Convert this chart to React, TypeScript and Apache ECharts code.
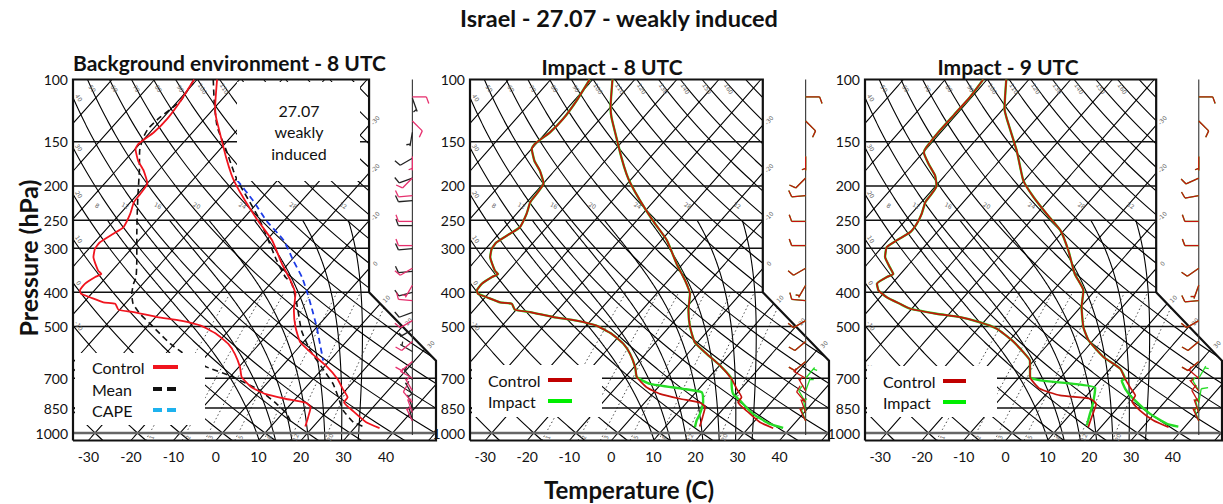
import React, { useEffect, useRef } from "react";
import * as echarts from "echarts";

// ---------- axis ticks and reference-line values ----------
const PRESSURE_TICKS = [100, 150, 200, 250, 300, 400, 500, 700, 850, 1000];
const TEMP_TICKS = [-30, -20, -10, 0, 10, 20, 30, 40];
const ISOTHERMS = [-100, -90, -80, -70, -60, -50, -40, -30, -20, -10, 0, 10, 20, 30, 40, 50];
const ISOTHERM_LABELS = [-30, -20, -10, 0, 10, 20, 30];
const DRY_ADIABATS = [-30, -20, -10, 0, 10, 20, 30, 40, 50, 60, 70, 80, 90, 100, 110, 120, 130, 140, 150, 160, 170];
const DRY_LABELS_LEFT = [-30, -20, -10, 0, 10, 20, 30, 40];
const DRY_LABELS_TOP = [50, 60, 70, 80, 90, 100, 110, 120, 130, 140, 150, 160];
const MOIST_ADIABATS = [8, 12, 16, 20, 24, 28, 32];
const MIXING_RATIOS = [1, 2, 3, 5, 8, 12, 20];

// ---------- soundings (pressure hPa, temperature °C) ----------
// Control, 8 UTC
const CTL8_P = [100, 120, 128, 146, 166, 185, 197, 220, 251, 285, 332, 370, 404, 450, 502, 554, 597, 644, 703, 750, 792, 818, 873, 932, 969];
const CTL8_T = [-75.3, -69.9, -67.6, -62.2, -56.9, -52.2, -49.2, -43.4, -36.1, -28.7, -21.5, -16.0, -12.0, -8.9, -5.0, -0.7, 4.5, 10.1, 15.7, 19.0, 21.9, 22.1, 26.6, 31.5, 35.9];
const CTL8_DP = [100, 115, 129, 141, 152, 157, 170, 181, 197, 211, 222, 240, 262, 273, 289, 301, 318, 347, 355, 362, 378, 395, 404, 413, 427, 431, 448, 455, 470, 481, 497, 524, 559, 597, 651, 695, 742, 775, 800, 821, 845, 902, 959];
const CTL8_TD = [-80.7, -79.4, -78.8, -79.1, -80.3, -80.0, -76.8, -73.5, -69.9, -69.4, -69.2, -67.6, -66.4, -67.4, -68.8, -68.6, -67.2, -63.3, -61.8, -62.6, -63.6, -63.4, -62.4, -59.6, -55.4, -52.3, -50.3, -46.2, -39.6, -33.4, -27.6, -22.3, -17.4, -13.7, -9.7, -7.2, -2.8, 1.8, 7.6, 13.2, 15.3, 16.8, 18.1];

// Impact, 8 UTC
const IMP8_P = [100, 120, 128, 146, 166, 185, 197, 220, 251, 285, 332, 370, 404, 450, 502, 554, 597, 644, 703, 734, 775, 809, 883, 942, 967];
const IMP8_T = [-75.3, -69.9, -67.6, -62.2, -56.9, -52.2, -49.2, -43.4, -36.1, -28.7, -21.5, -16.0, -12.0, -8.9, -5.0, -0.7, 4.5, 10.1, 15.7, 17.1, 19.2, 22.2, 28.1, 34.2, 38.2];
const IMP8_DP = [100, 115, 129, 141, 152, 157, 170, 181, 197, 211, 222, 240, 262, 273, 289, 301, 318, 347, 355, 362, 378, 395, 404, 413, 427, 431, 448, 455, 470, 481, 497, 524, 559, 597, 651, 695, 726, 750, 767, 818, 883, 922, 963];
const IMP8_TD = [-80.7, -79.4, -78.8, -79.1, -80.3, -80.0, -76.8, -73.5, -69.9, -69.4, -69.2, -67.6, -66.4, -67.4, -68.8, -68.6, -67.2, -63.3, -61.8, -62.6, -63.6, -63.4, -62.4, -59.6, -55.4, -52.3, -50.3, -46.2, -39.6, -33.4, -27.6, -22.3, -17.4, -13.7, -9.7, -7.2, -2.7, 6.3, 11.4, 13.8, 15.5, 16.1, 17.1];

// Control, 9 UTC
const CTL9_P = [100, 121, 129, 159, 193, 215, 240, 267, 305, 355, 395, 441, 502, 547, 610, 658, 703, 742, 783, 813, 864, 922, 963];
const CTL9_T = [-75.4, -69.7, -67.1, -58.0, -50.2, -44.3, -37.6, -30.9, -24.7, -18.3, -12.8, -9.7, -5.1, -1.1, 6.0, 12.4, 15.7, 18.6, 21.6, 22.0, 25.9, 31.2, 36.2];
const CTL9_DP = [100, 112, 126, 141, 156, 161, 173, 187, 200, 211, 222, 240, 256, 270, 285, 298, 318, 340, 355, 362, 378, 395, 413, 431, 445, 460, 470, 486, 507, 547, 591, 624, 695, 750, 783, 800, 827, 902, 963];
const CTL9_TD = [-80.9, -80.4, -80.5, -80.6, -80.3, -79.8, -76.4, -72.3, -69.8, -69.3, -69.1, -67.5, -66.6, -66.4, -67.9, -68.9, -67.2, -63.9, -61.7, -62.6, -63.6, -61.8, -58.4, -53.9, -50.4, -43.0, -36.7, -30.9, -25.5, -19.4, -14.2, -10.9, -7.4, -2.6, 3.6, 11.5, 14.0, 15.7, 17.0];

// Impact, 9 UTC
const IMP9_P = [100, 121, 129, 159, 193, 215, 240, 267, 305, 355, 395, 441, 502, 547, 610, 658, 703, 710, 750, 792, 883, 942, 959];
const IMP9_T = [-75.4, -69.7, -67.1, -58.0, -50.2, -44.3, -37.6, -30.9, -24.7, -18.3, -12.8, -9.7, -5.1, -1.1, 6.0, 12.4, 15.7, 15.2, 17.8, 21.1, 29.0, 35.1, 38.4];
const IMP9_DP = [100, 112, 126, 141, 156, 161, 173, 187, 200, 211, 222, 240, 256, 270, 285, 298, 318, 340, 355, 362, 378, 395, 413, 431, 445, 460, 470, 486, 507, 547, 591, 624, 695, 710, 726, 745, 827, 883, 952];
const IMP9_TD = [-80.9, -80.4, -80.5, -80.6, -80.3, -79.8, -76.4, -72.3, -69.8, -69.3, -69.1, -67.5, -66.6, -66.4, -67.9, -68.9, -67.2, -63.9, -61.7, -62.6, -63.6, -61.8, -58.4, -53.9, -50.4, -43.0, -36.7, -30.9, -25.5, -19.4, -14.2, -10.9, -7.4, -4.3, 4.4, 10.4, 13.2, 14.6, 16.3];

// Mean background environment, 8 UTC
const MEAN_P = [100, 117, 136, 159, 181, 193, 215, 245, 279, 325, 362, 378, 431, 513, 584, 651, 726, 792, 864, 932, 963];
const MEAN_T = [-76.2, -70.9, -65.4, -58.2, -52.4, -49.4, -43.7, -36.8, -30.6, -23.4, -17.9, -15.0, -9.6, -2.9, 3.3, 9.5, 15.7, 19.7, 23.7, 28.5, 32.3];
const MEAN_DP = [100, 115, 129, 138, 147, 159, 181, 211, 235, 273, 325, 362, 378, 404, 431, 460, 491, 524, 559, 591, 651, 688, 758, 827, 883, 942];
const MEAN_TD = [-80.7, -79.4, -80.9, -81.2, -80.4, -78.6, -74.5, -69.9, -66.6, -61.9, -56.3, -53.0, -52.2, -50.5, -48.1, -44.4, -39.9, -35.5, -31.0, -26.5, -17.5, -10.3, -0.1, 6.6, 11.1, 14.3];

// Lifted parcel used for CAPE
const CAPE_P = [193, 220, 251, 285, 325, 362, 395, 441, 502, 559, 624];
const CAPE_T = [-49.4, -41.5, -34.1, -26.0, -19.5, -14.0, -10.1, -5.4, 0.0, 4.2, 8.5];

// ---------- winds (direction from, degrees; speed, kt) ----------
const BARB_P = [112, 131, 165, 190, 213, 252, 295, 342, 382, 422, 481, 551, 628, 700, 760, 820, 875, 925];
const CTL8_WDIR = [90, 135, 180, 225, 265, 270, 270, 240, 210, 275, 240, 230, 230, 300, 330, 320, 340, 335];
const CTL8_WSPD = [10, 10, 5, 10, 10, 10, 10, 10, 5, 10, 10, 10, 10, 5, 5, 10, 5, 5];
const IMP8_WDIR = [90, 135, 180, 225, 265, 270, 270, 240, 210, 275, 240, 230, 230, 40, 20, 330, 350, 340];
const IMP8_WSPD = [10, 10, 5, 10, 10, 10, 10, 10, 5, 10, 10, 10, 10, 5, 5, 10, 5, 5];
const CTL9_WDIR = [90, 135, 180, 245, 260, 270, 270, 235, 200, 265, 240, 230, 230, 310, 320, 330, 340, 335];
const CTL9_WSPD = [10, 10, 5, 10, 10, 10, 10, 10, 5, 10, 10, 10, 10, 5, 5, 10, 5, 5];
const IMP9_WDIR = [90, 135, 180, 245, 260, 270, 270, 235, 200, 265, 240, 230, 230, 30, 330, 10, 345, 340];
const IMP9_WSPD = [10, 10, 5, 10, 10, 10, 10, 10, 5, 10, 10, 10, 10, 5, 5, 10, 5, 5];
const MEAN_BARB_P = [113, 141, 167, 190, 220, 259, 301, 349, 400, 456, 510, 588, 706, 780, 850, 920];
const MEAN_WDIR = [160, 190, 240, 250, 265, 270, 265, 265, 255, 250, 240, 300, 320, 330, 340, 345];
const MEAN_WSPD = [5, 5, 10, 10, 10, 10, 10, 10, 10, 10, 5, 5, 5, 5, 5, 5];

// ---------- skew-T geometry (NCL-style diagram coordinates) ----------
const skewY = (p: number) => 132.182 - 44.061 * Math.log10(p);
const skewX = (t: number, y: number) => 0.54 * t + 0.90692 * y;
const toXY = (p: number, t: number) => {
  const y = skewY(p);
  return [skewX(t, y), y];
};
const Y_BOT = skewY(1050);
const Y_TOP = skewY(100);
const X_MIN = -19;
const X_MAX = 27.1;
const X_UPPER = 18.6;
const Y_KNEE_HI = 17.53;
const Y_KNEE_LO = 9.0;
const STAFF_X = 24.1;

const rightEdge = (y: number) => {
  if (y >= Y_KNEE_HI) return X_UPPER;
  if (y <= Y_KNEE_LO) return X_MAX;
  return X_UPPER + ((Y_KNEE_HI - y) * (X_MAX - X_UPPER)) / (Y_KNEE_HI - Y_KNEE_LO);
};
const inside = (q: number[]) => {
  const e = 1e-7;
  return q[1] >= Y_BOT - e && q[1] <= Y_TOP + e && q[0] >= X_MIN - e && q[0] <= rightEdge(q[1]) + e;
};

function clip(points: number[][]) {
  const out: number[][][] = [];
  let cur: number[][] = [];
  for (let i = 0; i < points.length; i++) {
    const p = points[i];
    const pin = inside(p);
    if (i > 0) {
      const q = points[i - 1];
      const qin = inside(q);
      if (pin !== qin) {
        let a = q;
        let b = p;
        for (let k = 0; k < 40; k++) {
          const m = [(a[0] + b[0]) / 2, (a[1] + b[1]) / 2];
          if (inside(m) === qin) a = m;
          else b = m;
        }
        if (qin) {
          cur.push(a);
          out.push(cur);
          cur = [];
        } else {
          cur.push(b);
        }
      }
    }
    if (pin) cur.push(p);
  }
  if (cur.length > 1) out.push(cur);
  return out.filter((s) => s.length > 1);
}

const logSteps = (p0: number, p1: number, n: number) => {
  const out: number[] = [];
  for (let i = 0; i <= n; i++) out.push(p0 * Math.pow(p1 / p0, i / n));
  return out;
};

// pseudo-adiabatic lapse rate
const RD = 287.04, CPD = 1005.7, LV = 2.501e6, EPS = 0.622;
const satVap = (tc: number) => 6.112 * Math.exp((17.67 * tc) / (tc + 243.5));
const moistRate = (p: number, tk: number) => {
  const e = satVap(tk - 273.15);
  const rs = (EPS * e) / (p - e);
  return (RD * tk + LV * rs) / (CPD + (LV * LV * rs * EPS) / (RD * tk * tk)) / p;
};
function moistProfile(tw: number, pTop: number) {
  const down: number[][] = [];
  let tk = tw + 273.15;
  let p = 1000;
  while (p < 1050) {
    const dp = Math.min(2, 1050 - p);
    const k1 = moistRate(p, tk);
    const k2 = moistRate(p + dp, tk + k1 * dp);
    tk += 0.5 * (k1 + k2) * dp;
    p += dp;
    down.push([p, tk - 273.15]);
  }
  down.reverse();
  const pts = [...down, [1000, tw]];
  tk = tw + 273.15;
  p = 1000;
  while (p > pTop) {
    const dp = -Math.min(2, p - pTop);
    const k1 = moistRate(p, tk);
    const k2 = moistRate(p + dp, tk + k1 * dp);
    tk += 0.5 * (k1 + k2) * dp;
    p += dp;
    pts.push([p, tk - 273.15]);
  }
  return pts;
}

type Label = { pos: number[]; text: string; dx: number; dy: number; rot: number };

function buildBackground() {
  const isobars: number[][][] = PRESSURE_TICKS.filter((p) => p !== 100 && p !== 1000).map((p) => {
    const y = skewY(p);
    return [[X_MIN, y], [rightEdge(y), y]];
  });
  const surface = [[[X_MIN, skewY(1000)], [X_MAX, skewY(1000)]]];
  const outline = [[
    [X_MIN, Y_BOT], [X_MAX, Y_BOT], [X_MAX, Y_KNEE_LO], [X_UPPER, Y_KNEE_HI],
    [X_UPPER, Y_TOP], [X_MIN, Y_TOP], [X_MIN, Y_BOT],
  ]];
  const isotherms: number[][][] = [];
  const dry: number[][][] = [];
  const moist: number[][][] = [];
  const mixing: number[][][] = [];
  const labels: Label[] = [];

  ISOTHERMS.forEach((t) => {
    const pts: number[][] = [];
    for (let i = 0; i <= 240; i++) {
      const y = Y_BOT + ((Y_TOP - Y_BOT) * i) / 240;
      pts.push([skewX(t, y), y]);
    }
    const segs = clip(pts);
    segs.forEach((s) => isotherms.push(s));
    if (ISOTHERM_LABELS.includes(t) && segs.length) {
      const s = segs[segs.length - 1];
      labels.push({ pos: s[s.length - 1], text: String(t), dx: 6, dy: -5, rot: 0.8 });
    }
  });

  DRY_ADIABATS.forEach((th) => {
    const pts = logSteps(1050, 100, 240).map((p) => toXY(p, (th + 273.15) * Math.pow(p / 1000, 0.2857) - 273.15));
    const segs = clip(pts);
    segs.forEach((s) => dry.push(s));
    if (segs.length) {
      const s = segs[segs.length - 1];
      const e = s[s.length - 1];
      if (DRY_LABELS_LEFT.includes(th)) labels.push({ pos: e, text: String(th), dx: 6, dy: 0, rot: -1.0 });
      if (DRY_LABELS_TOP.includes(th)) labels.push({ pos: e, text: String(th), dx: 5, dy: 9, rot: -1.0 });
    }
  });

  MOIST_ADIABATS.forEach((tw) => {
    const prof = moistProfile(tw, 227);
    const pts = prof.filter((q) => q[0] >= 250).map((q) => toXY(q[0], q[1]));
    clip(pts).forEach((s) => moist.push(s));
    const top = prof[prof.length - 1];
    labels.push({ pos: toXY(top[0], top[1]), text: String(tw), dx: 0, dy: 0, rot: -0.5 });
  });

  MIXING_RATIOS.forEach((w) => {
    const tdAt = (p: number) => {
      const e = (w * p) / (622 + w);
      const l = Math.log(e / 6.112);
      return (243.5 * l) / (17.67 - l);
    };
    const pts = logSteps(1050, 400, 80).map((p) => toXY(p, tdAt(p)));
    clip(pts).forEach((s) => mixing.push(s));
    labels.push({ pos: toXY(1028, tdAt(1028)), text: String(w), dx: 4, dy: 0, rot: 1.2 });
  });

  return { isobars, surface, outline, isotherms, dry, moist, mixing, labels };
}

// ---------- series builders ----------
function polySeries(gi: number, lines: number[][][], stroke: string, width: number, dash: any, z: number) {
  return {
    type: "custom",
    xAxisIndex: gi,
    yAxisIndex: gi,
    silent: true,
    z,
    data: lines.map((l) => l[0]),
    renderItem: (params: any, api: any) => ({
      type: "polyline",
      shape: { points: lines[params.dataIndex].map((q) => api.coord(q)) },
      style: { stroke, lineWidth: width, fill: null, lineDash: dash },
    }),
  };
}

function labelSeries(gi: number, items: Label[], z: number) {
  return {
    type: "custom",
    xAxisIndex: gi,
    yAxisIndex: gi,
    silent: true,
    z,
    data: items.map((it) => it.pos),
    renderItem: (params: any, api: any) => {
      const it = items[params.dataIndex];
      const c = api.coord(it.pos);
      return {
        type: "text",
        x: c[0] + it.dx,
        y: c[1] + it.dy,
        rotation: it.rot,
        style: {
          text: it.text, fill: "#666", fontSize: 6, fontFamily: "DejaVu Sans",
          align: "center", verticalAlign: "middle", textAlign: "center", textVerticalAlign: "middle",
        },
      };
    },
  };
}

function profileSeries(gi: number, P: number[], T: number[], color: string, width: number, dash: any, z: number) {
  return {
    type: "line",
    xAxisIndex: gi,
    yAxisIndex: gi,
    data: P.map((p, i) => toXY(p, T[i])),
    showSymbol: false,
    symbol: "none",
    smooth: 0.15,
    silent: true,
    z,
    lineStyle: { color, width, type: dash },
  };
}

function barbSeries(gi: number, P: number[], D: number[], S: number[], color: string, z: number) {
  return {
    type: "custom",
    xAxisIndex: gi,
    yAxisIndex: gi,
    silent: true,
    z,
    data: P.map((p, i) => [STAFF_X, skewY(p), D[i], S[i]]),
    renderItem: (params: any, api: any) => {
      const b = api.coord([api.value(0), api.value(1)]);
      const d = (api.value(2) * Math.PI) / 180;
      let spd = api.value(3);
      const L = 14;
      const ux = Math.sin(d);
      const uy = -Math.cos(d);
      const tip = [b[0] + ux * L, b[1] + uy * L];
      const fa = d + (70 * Math.PI) / 180;
      const fx = Math.sin(fa);
      const fy = -Math.cos(fa);
      const st = { stroke: color, lineWidth: 1.3 };
      const kids: any[] = [{ type: "line", shape: { x1: b[0], y1: b[1], x2: tip[0], y2: tip[1] }, style: st }];
      let off = 0;
      while (spd >= 10) {
        const sx = tip[0] - ux * off;
        const sy = tip[1] - uy * off;
        kids.push({ type: "line", shape: { x1: sx, y1: sy, x2: sx + fx * 7, y2: sy + fy * 7 }, style: st });
        off += 3;
        spd -= 10;
      }
      if (spd >= 5) {
        const o = off === 0 ? 2 : off;
        const sx = tip[0] - ux * o;
        const sy = tip[1] - uy * o;
        kids.push({ type: "line", shape: { x1: sx, y1: sy, x2: sx + fx * 4, y2: sy + fy * 4 }, style: st });
      }
      return { type: "group", children: kids };
    },
  };
}

const PANELS = [
  { left: 73, width: 363 },
  { left: 470, width: 359 },
  { left: 865, width: 357 },
];

const COLORS = {
  controlBright: "#f0141e",
  control: "#c4120c",
  impact: "#26dc26",
  mean: "#111111",
  cape: "#1d3ce6",
  capeKey: "#1eb2ee",
  pinkBarb: "#e6306e",
  grid: "#000000",
};

function buildOption() {
  const bg = buildBackground();
  const series: any[] = [];

  PANELS.forEach((_, gi) => {
    series.push(polySeries(gi, bg.isotherms, COLORS.grid, 1.1, null, 1));
    series.push(polySeries(gi, bg.dry, COLORS.grid, 1.1, null, 1));
    series.push(polySeries(gi, bg.moist, COLORS.grid, 1.1, null, 1));
    series.push(polySeries(gi, bg.mixing, "#444", 1, [1.5, 2.5], 1));
    series.push(polySeries(gi, bg.isobars, "#111", 1.5, null, 2));
    series.push(polySeries(gi, bg.surface, "#666", 2.4, null, 2));
    series.push(polySeries(gi, bg.outline, "#111", 2.2, null, 3));
    series.push(polySeries(gi, [[[STAFF_X, Y_TOP], [STAFF_X, skewY(1013)]]], "#333", 1.1, null, 3));
    series.push(labelSeries(gi, bg.labels, 3));
  });

  // Background environment
  series.push(profileSeries(0, MEAN_DP, MEAN_TD, COLORS.mean, 1.6, [6, 4], 5));
  series.push(profileSeries(0, MEAN_P, MEAN_T, COLORS.mean, 1.6, [6, 4], 5));
  series.push(profileSeries(0, CAPE_P, CAPE_T, COLORS.cape, 1.8, [6, 4], 6));
  series.push(profileSeries(0, CTL8_DP, CTL8_TD, COLORS.controlBright, 1.8, "solid", 7));
  series.push(profileSeries(0, CTL8_P, CTL8_T, COLORS.controlBright, 1.8, "solid", 7));
  series.push(barbSeries(0, MEAN_BARB_P, MEAN_WDIR, MEAN_WSPD, "#222", 6));
  series.push(barbSeries(0, BARB_P, CTL8_WDIR, CTL8_WSPD, COLORS.pinkBarb, 7));

  // Impact 8 UTC
  series.push(profileSeries(1, IMP8_DP, IMP8_TD, COLORS.impact, 2.4, "solid", 5));
  series.push(profileSeries(1, IMP8_P, IMP8_T, COLORS.impact, 2.4, "solid", 5));
  series.push(profileSeries(1, CTL8_DP, CTL8_TD, COLORS.control, 1.7, "solid", 6));
  series.push(profileSeries(1, CTL8_P, CTL8_T, COLORS.control, 1.7, "solid", 6));
  series.push(barbSeries(1, BARB_P, IMP8_WDIR, IMP8_WSPD, COLORS.impact, 6));
  series.push(barbSeries(1, BARB_P, CTL8_WDIR, CTL8_WSPD, COLORS.control, 7));

  // Impact 9 UTC
  series.push(profileSeries(2, IMP9_DP, IMP9_TD, COLORS.impact, 2.4, "solid", 5));
  series.push(profileSeries(2, IMP9_P, IMP9_T, COLORS.impact, 2.4, "solid", 5));
  series.push(profileSeries(2, CTL9_DP, CTL9_TD, COLORS.control, 1.7, "solid", 6));
  series.push(profileSeries(2, CTL9_P, CTL9_T, COLORS.control, 1.7, "solid", 6));
  series.push(barbSeries(2, BARB_P, IMP9_WDIR, IMP9_WSPD, COLORS.impact, 6));
  series.push(barbSeries(2, BARB_P, CTL9_WDIR, CTL9_WSPD, COLORS.control, 7));

  const tickFont = { fontSize: 14, color: "#111", fontFamily: "Lato" };
  const grid = PANELS.map((pn) => ({ left: pn.left, top: 79.5, width: pn.width, height: 361 }));
  const xAxis = PANELS.map((_, i) => ({
    type: "value",
    gridIndex: i,
    min: X_MIN,
    max: X_MAX,
    axisLine: { show: false },
    axisTick: { show: false },
    splitLine: { show: false },
    axisLabel: {
      ...tickFont,
      margin: 9,
      customValues: TEMP_TICKS.map((t) => skewX(t, Y_BOT)),
      formatter: (v: number) => String(Math.round((v - 0.90692 * Y_BOT) / 0.54)),
    },
  }));
  const yAxis = PANELS.map((_, i) => ({
    type: "value",
    gridIndex: i,
    min: Y_BOT,
    max: Y_TOP,
    axisLine: { show: false },
    axisTick: { show: false },
    splitLine: { show: false },
    axisLabel: {
      ...tickFont,
      margin: 5,
      customValues: PRESSURE_TICKS.map(skewY),
      formatter: (v: number) => String(Math.round(Math.pow(10, (132.182 - v) / 44.061))),
    },
  }));

  const txt = (x: number, y: number, text: string, font: string, align = "left", extra: any = {}) => ({
    type: "text",
    x,
    y,
    z: 101,
    ...extra,
    style: { text, font, fill: "#111", textAlign: align, textVerticalAlign: "middle", align, verticalAlign: "middle" },
  });
  const box = (x: number, y: number, w: number, h: number) => ({
    type: "rect", z: 100, shape: { x, y, width: w, height: h }, style: { fill: "#fff" },
  });
  const key = (x1: number, x2: number, y: number, color: string, dash: any) => ({
    type: "line", z: 101, shape: { x1, y1: y, x2, y2: y }, style: { stroke: color, lineWidth: 4, lineDash: dash },
  });

  const graphic = [
    txt(619, 18, "Israel - 27.07 - weakly induced", "bold 23.5px Lato", "center"),
    txt(73, 62, "Background environment - 8 UTC", "bold 21px Lato", "left"),
    txt(612, 66, "Impact - 8 UTC", "bold 21px Lato", "center"),
    txt(1008, 66, "Impact - 9 UTC", "bold 21px Lato", "center"),
    txt(629, 489, "Temperature (C)", "bold 24px Lato", "center"),
    txt(28, 258, "Pressure (hPa)", "bold 25px Lato", "center", { rotation: Math.PI / 2 }),
    // note box
    box(237, 82, 123, 99),
    txt(299, 110, "27.07", "16px Lato", "center"),
    txt(299, 131, "weakly", "16px Lato", "center"),
    txt(299, 153, "induced", "16px Lato", "center"),
    // legend, background environment
    box(75, 353, 130, 72),
    txt(92, 367, "Control", "16px Lato"),
    txt(92, 389, "Mean", "16px Lato"),
    txt(92, 410, "CAPE", "16px Lato"),
    key(153, 178, 367, COLORS.controlBright, null),
    key(153, 178, 389, "#111", [9, 5]),
    key(153, 178, 410, COLORS.capeKey, [9, 5]),
    // legend, impact 8 UTC
    box(472, 365, 130, 52),
    txt(488, 380, "Control", "16px Lato"),
    txt(488, 401, "Impact", "16px Lato"),
    key(548, 572, 380, "#c00000", null),
    key(548, 572, 401, "#00ee00", null),
    // legend, impact 9 UTC
    box(867, 366, 130, 51),
    txt(883, 381, "Control", "16px Lato"),
    txt(883, 402, "Impact", "16px Lato"),
    key(943, 966, 381, "#c00000", null),
    key(943, 966, 402, "#00ee00", null),
  ];

  return { animation: false, backgroundColor: "#ffffff", grid, xAxis, yAxis, series, graphic };
}

export default function App() {
  const ref = useRef<HTMLDivElement>(null);
  useEffect(() => {
    if (!ref.current) return;
    const chart = echarts.init(ref.current, undefined, { renderer: "svg" });
    chart.setOption(buildOption() as any);
    return () => chart.dispose();
  }, []);
  return <div ref={ref} style={{ position: "absolute", left: 0, top: 0, width: 1223, height: 504 }} />;
}
